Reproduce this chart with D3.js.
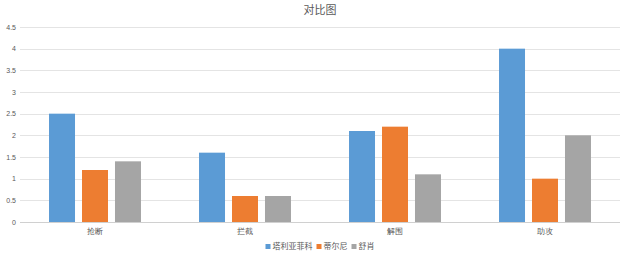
<!DOCTYPE html>
<html>
<head>
<meta charset="utf-8">
<script src="https://cdn.jsdelivr.net/npm/d3@7/dist/d3.min.js"></script>
<style>
  html, body { margin: 0; padding: 0; background: #fff; }
  svg { display: block; font-family: "Noto Sans CJK SC", "Noto Sans", sans-serif; }
</style>
</head>
<body>
<svg id="chart" width="640" height="260"></svg>
<script>
  // 数据
  const categories = ['抢断', '拦截', '解围', '助攻'];
  const players = ['塔利亚菲科', '蒂尔尼', '舒肖'];
  const tagliafico = [2.5, 1.6, 2.1, 4];
  const tierney = [1.2, 0.6, 2.2, 1];
  const shaw = [1.4, 0.6, 1.1, 2];
  const yTicks = [0, 0.5, 1, 1.5, 2, 2.5, 3, 3.5, 4, 4.5];
  const colors = ['#5B9BD5', '#ED7D31', '#A5A5A5'];

  const series = [tagliafico, tierney, shaw];
  const svg = d3.select('#chart');
  const m = { left: 20, right: 20, top: 27, bottom: 38 };
  const W = 640, H = 260;

  const x0 = d3.scaleBand().domain(categories).range([m.left, W - m.right]).padding(0);
  const x1 = d3.scaleBand().domain(players).range([0, x0.bandwidth()])
    .paddingInner(0.212).paddingOuter(0.88);
  const y = d3.scaleLinear().domain([0, 4.5]).range([H - m.bottom, m.top]);

  // 网格线
  svg.append('g').selectAll('line').data(yTicks).join('line')
    .attr('x1', m.left).attr('x2', W - m.right)
    .attr('y1', (d) => Math.round(y(d)) + 0.5).attr('y2', (d) => Math.round(y(d)) + 0.5)
    .attr('stroke', (d) => d === 0 ? '#d0d0d0' : '#e4e4e4').attr('stroke-width', 1);

  // y 轴刻度
  const yAxis = d3.axisLeft(y).tickValues(yTicks).tickSize(0).tickPadding(0)
    .tickFormat((d) => String(d));
  const ga = svg.append('g').attr('transform', `translate(${m.left - 4},0)`).call(yAxis);
  ga.select('.domain').remove();
  ga.selectAll('text').attr('fill', '#595959').attr('font-size', 7);

  // 柱子
  const groups = svg.append('g').selectAll('g').data(categories).join('g')
    .attr('transform', (d) => `translate(${x0(d)},0)`);
  groups.selectAll('rect')
    .data((c, ci) => players.map((p, pi) => ({ p, pi, v: series[pi][ci] })))
    .join('rect')
    .attr('x', (d) => x1(d.p)).attr('width', x1.bandwidth())
    .attr('y', (d) => y(d.v)).attr('height', (d) => y(0) - y(d.v))
    .attr('fill', (d) => colors[d.pi]);

  // x 轴标签
  const xAxis = d3.axisBottom(x0).tickSize(0).tickPadding(6);
  const gx = svg.append('g').attr('transform', `translate(0,${y(0)})`).call(xAxis);
  gx.select('.domain').remove();
  gx.selectAll('text').attr('fill', '#595959').attr('font-size', 8);

  // 标题
  svg.append('text').attr('x', 320).attr('y', 14).attr('text-anchor', 'middle')
    .attr('fill', '#595959').attr('font-size', 11).text('对比图');

  // 图例
  const legend = svg.append('g');
  let lx = 0;
  const items = [];
  players.forEach((p, i) => {
    const g = legend.append('g').attr('transform', `translate(${lx},0)`);
    g.append('rect').attr('x', 0).attr('y', -5).attr('width', 5).attr('height', 5).attr('fill', colors[i]);
    const t = g.append('text').attr('x', 7).attr('y', 0).attr('fill', '#595959').attr('font-size', 8).text(p);
    lx += 7 + t.node().getComputedTextLength() + 4;
    items.push(g);
  });
  legend.attr('transform', `translate(${320 - (lx - 4) / 2},249)`);
</script>
</body>
</html>
